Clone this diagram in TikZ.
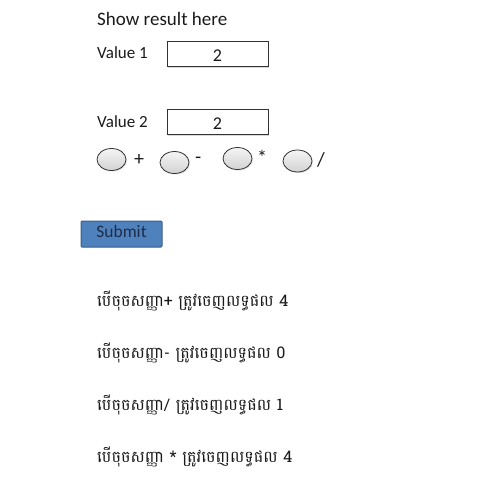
\documentclass[tikz,border=0pt]{standalone}
\usepackage{fontspec}
\setmainfont{Carlito}
\newfontfamily\khmerfont[Script=Khmer]{Battambang}
\usetikzlibrary{shapes.geometric,shadows}
\definecolor{btnfill}{HTML}{4F81BD}
\definecolor{btnedge}{HTML}{385D8A}
\definecolor{btntext}{HTML}{1F2D4A}
\definecolor{txt}{HTML}{1A1A1A}
\tikzset{
  lbl/.style={anchor=west,inner sep=0pt,font=\fontsize{17}{19}\selectfont,text=txt},
  inbox/.style={draw=black!80,line width=1pt,fill=white,minimum width=101pt,minimum height=25pt,inner sep=0pt,drop shadow={shadow xshift=1pt,shadow yshift=-1pt,opacity=0.3}},
  boxval/.style={inner sep=0pt,font=\fontsize{18}{20}\selectfont,text=txt},
  radio/.style={ellipse,draw=black!80,line width=0.8pt,top color=gray!8,bottom color=gray!35,minimum width=29pt,minimum height=22pt,inner sep=0pt,drop shadow={shadow xshift=1pt,shadow yshift=-1pt,opacity=0.25}},
  op/.style={anchor=west,inner sep=0pt,font=\fontsize{20}{22}\selectfont,text=txt},
  khm/.style={anchor=west,inner sep=0pt,font=\khmerfont\fontsize{16}{19}\selectfont,text=txt},
  btn/.style={draw=btnedge,line width=1pt,fill=btnfill,minimum width=81pt,minimum height=26pt,inner sep=0pt,rounded corners=1pt},
  btnlbl/.style={inner sep=0pt,font=\fontsize{17.5}{19}\selectfont,text=btntext}
}
\begin{document}
\begin{tikzpicture}[x=1pt,y=-1pt]
\useasboundingbox (0,0) rectangle (500,500);
\node[lbl,font=\fontsize{19}{21}\selectfont] (title) at (97,19) {Show result here};
\node[lbl] (v1) at (97,53) {Value 1};
\node[inbox] (b1) at (217.5,54.5) {};
\node[boxval] (b1t) at (217.5,56) {2};
\node[lbl] (v2) at (97,122) {Value 2};
\node[inbox] (b2) at (217.5,122) {};
\node[boxval] (b2t) at (217.5,123.5) {2};
\node[radio] (r1) at (111.5,159.5) {};
\node[op] (o1) at (134,160) {+};
\node[radio] (r2) at (174.5,162.5) {};
\node[op] (o2) at (195,160) {-};
\node[radio] (r3) at (237.5,158.5) {};
\node[op] (o3) at (257,157) {*};
\node[radio] (r4) at (297.5,161) {};
\node[op] (o4) at (317,160) {/};
\node[btn] (sub) at (121.5,234) {};
\node[btnlbl] (subt) at (121.5,231.5) {Submit};
\node[khm] (k1) at (97,301) {បើចុចសញ្ញា+ ត្រូវចេញលទ្ធផល 4};
\node[khm] (k2) at (97,353) {បើចុចសញ្ញា- ត្រូវចេញលទ្ធផល 0};
\node[khm] (k3) at (97,405) {បើចុចសញ្ញា/ ត្រូវចេញលទ្ធផល 1};
\node[khm] (k4) at (97,457) {បើចុចសញ្ញា * ត្រូវចេញលទ្ធផល 4};
\end{tikzpicture}
\end{document}
